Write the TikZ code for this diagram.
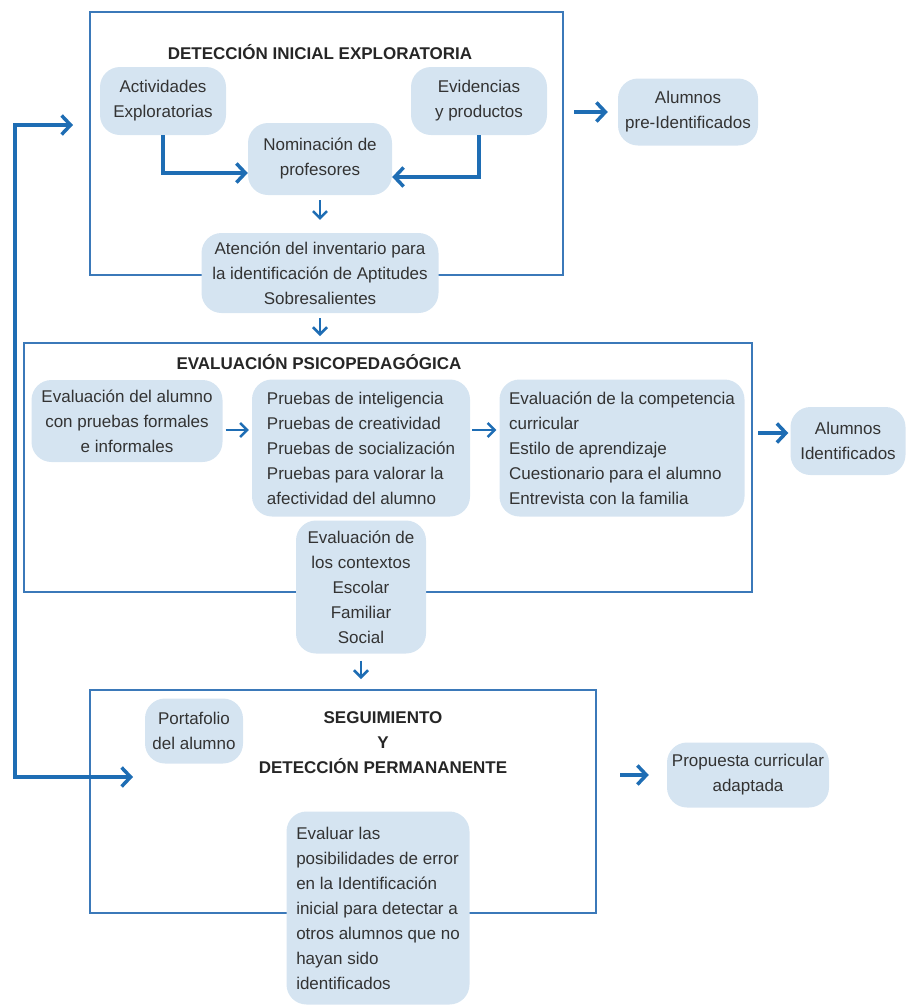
\documentclass[tikz,border=0pt]{standalone}
\usepackage{fontspec}
\setmainfont{Liberation Sans}
\usetikzlibrary{arrows.meta}
\definecolor{azul}{HTML}{1E6DB4}
\definecolor{marco}{HTML}{3B79B9}
\definecolor{relleno}{HTML}{D5E4F1}
\definecolor{texto}{HTML}{333333}

\begin{document}
\begin{tikzpicture}[x=1pt, y=-1pt,
    caja/.style={fill=relleno, rounded corners=20pt, inner sep=4pt, text=texto,
        font=\fontsize{17pt}{25pt}\selectfont, align=center},
    etapa/.style={draw=marco, line width=2pt, inner sep=0pt},
    titulo/.style={text=black!85, font=\bfseries\fontsize{17pt}{25pt}\selectfont, align=center},
    flechaG/.style={draw=azul, line width=3.5pt, -{Straight Barb[length=9pt, width=19pt]}},
    flechaP/.style={draw=azul, line width=2.5pt, -{Straight Barb[length=7pt, width=14pt]}}]
    \useasboundingbox (0,0) rectangle (909,1007);

    % Marcos de las etapas
    \node[etapa, minimum width=473pt, minimum height=263pt] (box1) at (326.5,143.5) {};
    \node[etapa, minimum width=728pt, minimum height=249pt] (box2) at (388,467.5) {};
    \node[etapa, minimum width=506pt, minimum height=223pt] (box3) at (343,801.5) {};

    % Titulos
    \node[titulo] (t1) at (320,52) {DETECCIÓN INICIAL EXPLORATORIA};
    \node[titulo] (t2) at (319,362) {EVALUACIÓN PSICOPEDAGÓGICA};
    \node[titulo] (t3) at (383,743) {SEGUIMIENTO\\Y\\DETECCIÓN PERMANANENTE};

    % Deteccion inicial
    \node[caja, minimum width=126pt, minimum height=68pt] (act) at (163,101) {Actividades\\Exploratorias};
    \node[caja, minimum width=136pt, minimum height=68pt] (evid) at (479,101) {Evidencias\\y productos};
    \node[caja, minimum width=144pt, minimum height=72pt] (nomin) at (320,159) {Nominación de\\profesores};
    \node[caja, minimum width=237pt, minimum height=80pt] (atenc) at (320,273) {Atención del inventario para\\la identificación de Aptitudes\\Sobresalientes};
    \node[caja, minimum width=140pt, minimum height=67pt] (preid) at (688,112) {Alumnos\\pre-Identificados};

    % Evaluacion psicopedagogica
    \node[caja, minimum width=191pt, minimum height=82pt] (evalal) at (127,421) {Evaluación del alumno\\con pruebas formales\\e informales};
    \node[caja, minimum width=218pt, minimum height=137pt, align=left] (pruebas) at (361,448) {Pruebas de inteligencia\\Pruebas de creatividad\\Pruebas de socialización\\Pruebas para valorar la\\afectividad del alumno};
    \node[caja, minimum width=245pt, minimum height=137pt, align=left] (compet) at (622,448) {Evaluación de la competencia\\curricular\\Estilo de aprendizaje\\Cuestionario para el alumno\\Entrevista con la familia};
    \node[caja, minimum width=115pt, minimum height=68pt] (ident) at (848,441) {Alumnos\\Identificados};
    \node[caja, minimum width=130pt, minimum height=133pt] (contx) at (361,587) {Evaluación de\\los contextos\\Escolar\\Familiar\\Social};

    % Seguimiento
    \node[caja, minimum width=98pt, minimum height=65pt] (portaf) at (194,731) {Portafolio\\del alumno};
    \node[caja, minimum width=183pt, minimum height=193pt, align=left] (evaluar) at (378,908) {Evaluar las\\posibilidades de error\\en la Identificación\\inicial para detectar a\\otros alumnos que no\\hayan sido\\identificados};
    \node[caja, minimum width=162pt, minimum height=65pt] (propuesta) at (748,775) {Propuesta curricular\\adaptada};

    % Flechas
    \draw[flechaG] (act.south) |- ([yshift=-14pt]nomin.west);
    \draw[flechaG] (evid.south) |- ([yshift=-18pt]nomin.east);
    \draw[flechaP, shorten <=5pt, shorten >=13pt] (nomin.south) -- (atenc.north);
    \draw[flechaG, shorten <=10pt, shorten >=10pt] (preid.west -| box1.east) -- (preid.west);
    \draw[flechaP, shorten <=5pt, shorten >=6pt] (atenc.south) -- (atenc.south |- box2.north);
    \draw[flechaP, shorten <=3pt, shorten >=3pt] ([yshift=-9pt]evalal.east) -- ([yshift=-9pt]evalal.east -| pruebas.west);
    \draw[flechaP, shorten <=2pt, shorten >=3pt] ([yshift=18pt]pruebas.east) -- ([yshift=18pt]compet.west);
    \draw[flechaG, shorten <=5pt, shorten >=2pt] ([yshift=8pt]ident.west -| box2.east) -- ([yshift=8pt]ident.west);
    \draw[flechaP, shorten <=7pt, shorten >=10pt] (contx.south) -- (contx.south |- box3.north);
    \draw[flechaG, shorten <=23pt, shorten >=18pt] (propuesta.west -| box3.east) -- (propuesta.west);

    % Retroalimentacion
    \coordinate (regreso) at (133,777);
    \coordinate (inicio) at (73,125);
    \draw[flechaG, {Straight Barb[length=9pt, width=19pt]}-{Straight Barb[length=9pt, width=19pt]}] (regreso) -- (15,777) |- (inicio);
\end{tikzpicture}
\end{document}
